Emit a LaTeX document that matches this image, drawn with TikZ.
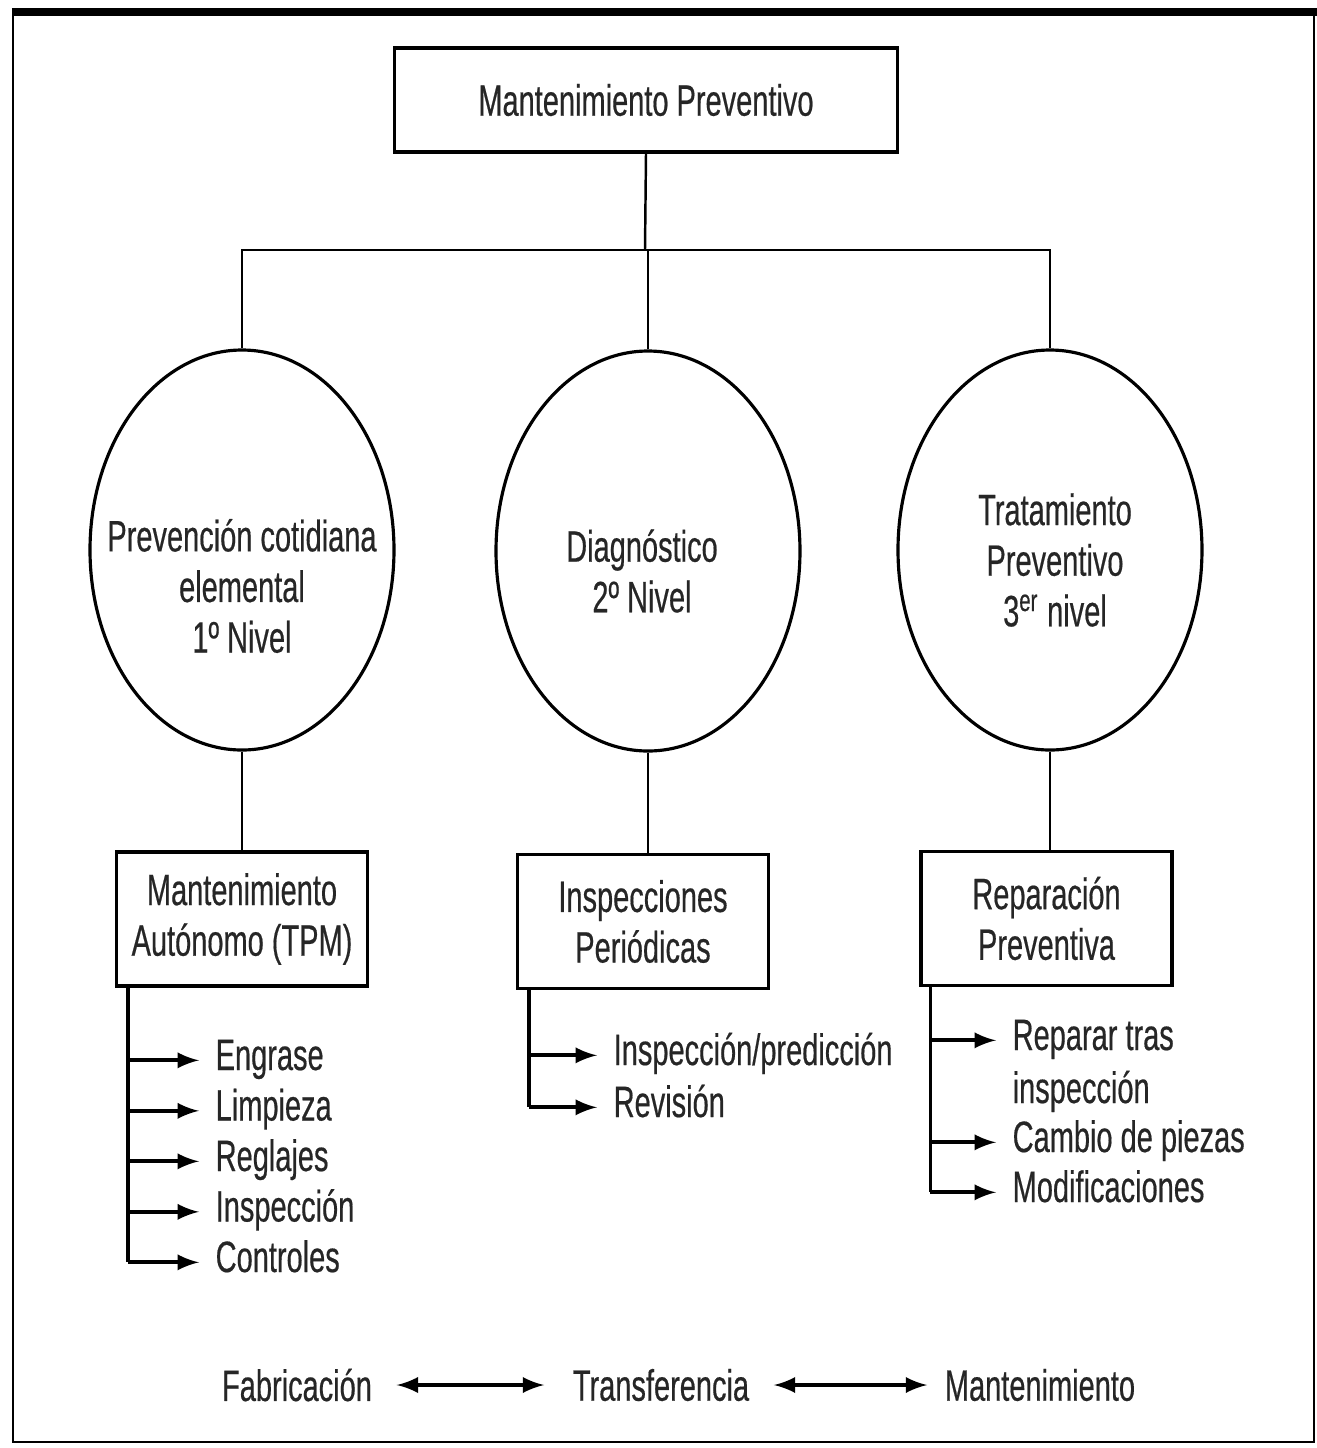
\documentclass[tikz,border=0pt]{standalone}
\usepackage{fontspec}
\setmainfont[FakeStretch=0.66,FakeBold=0.4]{Liberation Sans}
\usetikzlibrary{shapes.geometric}

\begin{document}
\begin{tikzpicture}[
  every node/.style={font=\fontsize{12.5}{14.4}\selectfont, text=black!85},
  box/.style={draw, line width=0.9pt, align=center, minimum width=2.51cm, minimum height=1.34cm, inner sep=0pt},
  nivel/.style={draw, ellipse, line width=0.9pt, minimum width=3.04cm, minimum height=4.0cm, inner sep=0pt},
  nivtxt/.style={align=center, inner sep=0pt},
  item/.style={anchor=base west, inner xsep=0.16cm, inner ysep=0pt, text height=0.75em, text depth=0.2em},
  lnk/.style={line width=0.7pt},
  tip/.style={-latex, line width=1.1pt}]

  % frame
  \useasboundingbox (0,0) rectangle (13.17,-14.48);
  \draw[line width=0.8pt] (0.13,-0.13) rectangle (13.14,-14.42);
  \draw[line width=2.5pt] (0.12,-0.12) -- (13.17,-0.12);

  % top box and the three levels
  \node[box, minimum width=5.03cm, minimum height=1.04cm] (mp) at (6.46,-1.0) {Mantenimiento Preventivo};
  \coordinate (bus) at (6.45,-2.5);

  \node[nivel] (lvl1) at (2.42,-5.50) {};
  \node[nivel] (lvl2) at (6.48,-5.51) {};
  \node[nivel] (lvl3) at (10.50,-5.50) {};
  \node[nivtxt] (lvl1txt) at ([yshift=-0.36cm]lvl1.center) {Prevención cotidiana\\elemental\\1º Nivel};
  \node[nivtxt] (lvl2txt) at ([xshift=-0.06cm,yshift=-0.2cm]lvl2.center) {Diagnóstico\\2º Nivel};
  \node[nivtxt] (lvl3txt) at ([xshift=0.05cm,yshift=-0.1cm]lvl3.center) {Tratamiento\\Preventivo\\3\textsuperscript{er} nivel};

  \draw[lnk] (mp.south) -- (bus);
  \draw[lnk] (lvl1.north) |- (bus) -| (lvl3.north);
  \draw[lnk] (lvl2.north) -- (lvl2.north |- bus);

  % boxes under the levels
  \node[box] (tpm) at (2.42,-9.19) {Mantenimiento\\Autónomo (TPM)};
  \node[box] (insp) at (6.43,-9.215) {Inspecciones\\Periódicas};
  \node[box] (rep) at (10.465,-9.185) {Reparación\\Preventiva};

  \draw[lnk] (lvl1.south) -- (tpm.north);
  \draw[lnk] (lvl2.south) -- (lvl2.south |- insp.north);
  \draw[lnk] (lvl3.south) -- (lvl3.south |- rep.north);

  % lists of tasks
  \coordinate (tpmspine) at ([xshift=0.13cm]tpm.south west);
  \foreach \txt [count=\i] in {Engrase,Limpieza,Reglajes,Inspección,Controles} {
    \node[item] (tpm\i) at (1.99,{-10.70-0.505*(\i-1)}) {\txt};
    \draw[tip] (tpm\i.west -| tpmspine) -- (tpm\i.west);
  }
  \draw[lnk, line width=1pt] (tpmspine) -- (tpm5.west -| tpmspine);

  \coordinate (inspspine) at ([xshift=0.13cm]insp.south west);
  \foreach \txt [count=\i] in {Inspección/predicción,Revisión} {
    \node[item] (insp\i) at (5.97,{-10.65-0.52*(\i-1)}) {\txt};
    \draw[tip] (insp\i.west -| inspspine) -- (insp\i.west);
  }
  \draw[lnk, line width=1pt] (inspspine) -- (insp2.west -| inspspine);

  \coordinate (repspine) at ([xshift=0.11cm]rep.south west);
  \node[item] (rep1) at (9.96,-10.50) {Reparar tras};
  \node[item] (rep1b) at (9.96,-11.03) {inspección};
  \node[item] (rep2) at (9.96,-11.52) {Cambio de piezas};
  \node[item] (rep3) at (9.96,-12.02) {Modificaciones};
  \foreach \k in {rep1,rep2,rep3}
    \draw[tip] (\k.west -| repspine) -- (\k.west);
  \draw[lnk, line width=1pt] (repspine) -- (rep3.west -| repspine);

  % bottom row
  \node[inner sep=0pt] (fab) at (2.97,-13.85) {Fabricación};
  \node[inner sep=0pt] (trans) at (6.61,-13.85) {Transferencia};
  \node[inner sep=0pt] (mant) at (10.40,-13.85) {Mantenimiento};
  \draw[latex-latex, line width=1.1pt, shorten <=0.24cm, shorten >=0.28cm] (fab) -- (trans);
  \draw[latex-latex, line width=1.1pt, shorten <=0.24cm, shorten >=0.17cm] (trans) -- (mant);

\end{tikzpicture}
\end{document}
